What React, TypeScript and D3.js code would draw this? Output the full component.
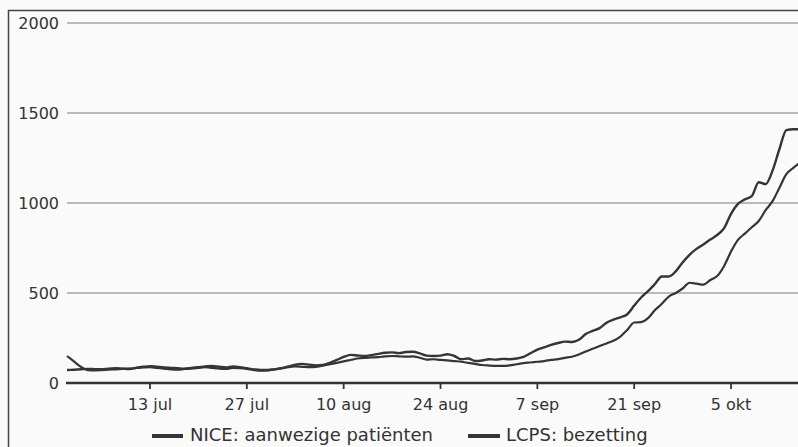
import React from "react";
import * as d3 from "d3";

const startDate = new Date(2020, 6, 1);
const endDate = new Date(2020, 9, 15);

const niceValues = [
  72, 74, 76, 78, 77, 76, 80, 82, 80, 78, 84, 90, 94,
  90, 86, 84, 82, 80, 84, 88, 92, 95, 90, 86, 92, 88, 82,
  76, 72, 72, 76, 82, 92, 102, 106, 102, 98, 100, 112, 128, 145,
  156, 153, 150, 155, 162, 168, 170, 166, 172, 174, 165, 152, 150, 152,
  160, 150, 132, 136, 122, 125, 132, 130, 134, 132, 136, 145, 165, 185,
  198, 212, 222, 230, 228, 240, 272, 290, 305, 335, 352, 365, 382, 430,
  475, 510, 550, 592, 592, 620, 670, 712, 745, 770, 797, 822, 860, 940,
  995, 1020, 1038, 1115, 1105, 1180, 1300, 1405, 1410, 1410,
];

const lcpsValues = [
  150, 120, 90, 72, 70, 72, 74, 76, 78, 80, 84, 86, 88,
  84, 80, 76, 74, 78, 80, 84, 88, 84, 80, 78, 84, 82, 78,
  72, 68, 70, 76, 82, 88, 92, 90, 88, 90, 96, 104, 112, 120,
  128, 136, 140, 142, 144, 148, 150, 148, 146, 148, 140, 130, 132, 128,
  126, 122, 118, 112, 106, 100, 97, 95, 95, 98, 104, 110, 114, 118,
  122, 128, 133, 140, 146, 158, 175, 190, 205, 220, 235, 258, 295, 336,
  338, 360, 405, 440, 480, 500, 525, 557, 552, 546, 572, 594, 650, 730,
  795, 830, 865, 900, 960, 1010, 1085, 1160, 1195, 1225,
];

const yTicks = [0, 500, 1000, 1500, 2000];
const xTickDates = [
  new Date(2020, 6, 13),
  new Date(2020, 6, 27),
  new Date(2020, 7, 10),
  new Date(2020, 7, 24),
  new Date(2020, 8, 7),
  new Date(2020, 8, 21),
  new Date(2020, 9, 5),
];
const xTickLabels = ["13 jul", "27 jul", "10 aug", "24 aug", "7 sep", "21 sep", "5 okt"];
const seriesNames = ["NICE: aanwezige patiënten", "LCPS: bezetting"];

const W = 798;
const H = 447;
const FONT = "'DejaVu Sans', Verdana, sans-serif";

export default function App() {
  const x = d3.scaleTime().domain([startDate, endDate]).range([67, 67 + 106 * 6.917]);
  const y = d3.scaleLinear().domain([0, 2000]).range([383, 23]);

  const line = d3
    .line<number>()
    .x((_, i) => x(d3.timeDay.offset(startDate, i)))
    .y((v) => y(v))
    .curve(d3.curveMonotoneX);

  const lineColor = "#353535";

  return (
    <svg
      width={W}
      height={H}
      style={{ position: "absolute", left: 0, top: 0, background: "#fafafa" }}
    >
      <defs>
        <clipPath id="plotclip">
          <rect x={0} y={0} width={W} height={H} />
        </clipPath>
      </defs>
      {/* frame */}
      <path d={`M8.5,${H} L8.5,10.5 L${W},10.5`} fill="none" stroke="#444" strokeWidth={1.5} />

      {/* grid */}
      {yTicks.map((t) =>
        t === 0 ? null : (
          <line key={t} x1={67} x2={W} y1={y(t)} y2={y(t)} stroke="#7a7a7a" strokeWidth={1.2} />
        )
      )}
      {yTicks.map((t) => (
        <text
          key={"l" + t}
          x={59}
          y={y(t)}
          dy="0.36em"
          textAnchor="end"
          fontFamily={FONT}
          fontSize={16}
          fill="#333"
        >
          {t}
        </text>
      ))}

      {/* lines */}
      <g clipPath="url(#plotclip)">
        <path d={line(lcpsValues) || ""} fill="none" stroke={lineColor} strokeWidth={2.2} />
        <path d={line(niceValues) || ""} fill="none" stroke={lineColor} strokeWidth={2.4} />
      </g>

      {/* x axis */}
      <line x1={66} x2={W} y1={y(0)} y2={y(0)} stroke="#333" strokeWidth={2.4} />
      {xTickDates.map((d, i) => (
        <g key={i}>
          <line x1={x(d)} x2={x(d)} y1={y(0)} y2={y(0) + 6} stroke="#333" strokeWidth={1.8} />
          <text
            x={x(d)}
            y={410}
            textAnchor="middle"
            fontFamily={FONT}
            fontSize={16}
            fill="#333"
          >
            {xTickLabels[i]}
          </text>
        </g>
      ))}

      {/* legend */}
      <line x1={152} x2={183} y1={436} y2={436} stroke={lineColor} strokeWidth={4} />
      <text x={190} y={441} fontFamily={FONT} fontSize={18} fill="#333">
        {seriesNames[0]}
      </text>
      <line x1={468} x2={500} y1={436} y2={436} stroke={lineColor} strokeWidth={4} />
      <text x={506} y={441} fontFamily={FONT} fontSize={18} fill="#333">
        {seriesNames[1]}
      </text>
    </svg>
  );
}
